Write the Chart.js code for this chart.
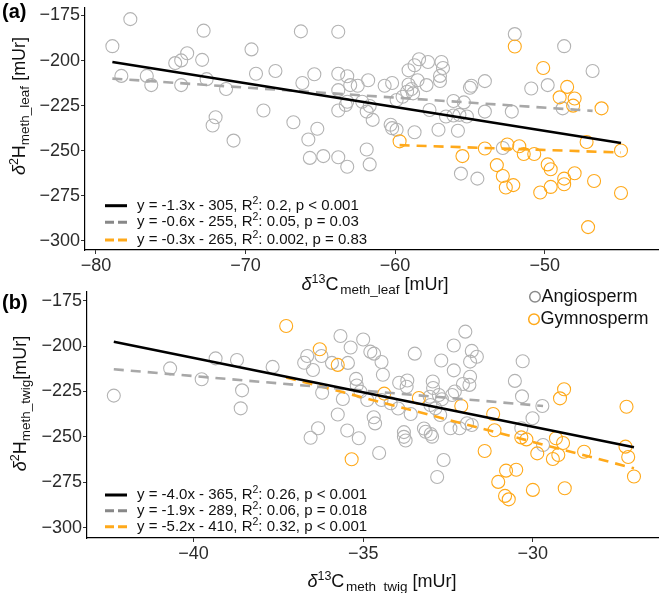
<!DOCTYPE html>
<html>
<head>
<meta charset="utf-8">
<script src="https://cdn.jsdelivr.net/npm/chart.js@4.4.1/dist/chart.umd.min.js"></script>
<style>
	html, body { margin: 0; padding: 0; background: #fff; }
	#wrap { position: relative; width: 666px; height: 593px; overflow: hidden; }
	.panel { position: absolute; left: 0; width: 666px; }
	#pa { top: 0; height: 300px; }
	#pb { top: 280px; height: 313px; }
</style>
</head>
<body>
<div id="wrap">
	<div class="panel" id="pa"><canvas id="chartA"></canvas></div>
	<div class="panel" id="pb"><canvas id="chartB"></canvas></div>
</div>
<script>
// Panel (a): leaf methoxyl values.
const leafAngioX = [-78.9, -77.7, -78.3, -76.6, -76.3, -74.7, -74.3, -73.9, -74.3, -72.8, -72.9, -72.6, -72.0, -72.2, -71.3, -70.8, -69.6, -69.3, -68.8, -68.0, -66.8, -66.3, -66.2, -65.4, -65.8, -65.2, -65.7, -64.8, -63.8, -63.8, -63.2, -63.8, -63.0, -62.5, -61.8, -63.2, -63.3, -63.8, -62.2, -61.7, -61.9, -61.5, -60.7, -60.2, -59.9, -60.3, -60.2, -59.9, -61.9, -61.7, -63.8, -63.2, -52.0, -48.7, -46.8, -58.7, -58.4, -58.7, -59.1, -57.8, -56.9, -56.8, -57.0, -57.0, -58.5, -59.1, -58.9, -58.8, -59.2, -59.5, -57.9, -57.7, -57.1, -56.6, -56.1, -55.4, -55.8, -56.1, -55.7, -55.2, -55.0, -54.9, -54.0, -54.0, -55.6, -54.5, -52.8, -52.2, -50.9, -49.8, -48.8]
const leafAngioY = [-192.0, -177.0, -208.5, -208.5, -213.6, -201.4, -199.9, -195.9, -213.6, -183.4, -199.6, -210.3, -231.4, -236.0, -215.8, -244.4, -193.8, -207.3, -227.7, -205.8, -234.2, -183.8, -212.4, -207.6, -243.8, -237.8, -254.0, -253.0, -184.0, -207.3, -208.7, -216.4, -213.6, -214.0, -210.9, -222.8, -224.6, -227.7, -222.8, -225.2, -228.3, -232.9, -214.0, -212.4, -221.9, -235.6, -237.5, -238.4, -249.3, -257.6, -253.6, -258.9, -185.3, -192.0, -205.8, -239.8, -199.3, -202.6, -205.4, -200.8, -200.8, -204.1, -208.5, -211.3, -210.9, -213.3, -215.8, -218.2, -217.3, -220.1, -213.6, -227.4, -238.4, -231.0, -222.4, -223.2, -238.9, -230.5, -230.1, -231.0, -215.1, -214.0, -211.4, -228.3, -262.7, -265.5, -248.5, -228.3, -215.5, -213.6, -226.5]
const leafGymnoX = [-59.7, -52.0, -50.1, -48.5, -49.0, -48.0, -48.1, -46.2, -47.2, -44.9, -55.5, -54.0, -52.5, -51.7, -51.4, -50.7, -53.2, -52.8, -52.6, -52.1, -50.3, -49.6, -49.8, -49.6, -48.7, -48.7, -48.0, -46.7, -44.9, -47.1]
const leafGymnoY = [-244.8, -192.2, -204.1, -214.6, -220.4, -221.0, -225.0, -226.5, -245.2, -249.9, -253.0, -248.8, -246.6, -247.5, -251.8, -251.8, -258.0, -264.0, -270.4, -269.1, -273.2, -270.1, -257.6, -260.3, -265.5, -268.6, -262.5, -266.8, -273.5, -292.4]

// Fitted lines of panel (a), as start and end values.
const leafFitAllX = [-78.9, -44.9]
const leafFitAllY = [-200.8, -245.7]
const leafFitAngioX = [-78.9, -46.8]
const leafFitAngioY = [-210.0, -227.9]
const leafFitGymnoX = [-59.7, -44.9]
const leafFitGymnoY = [-246.9, -251.0]
const leafFitLabels = ['y = -1.3x - 305, R^2: 0.2, p < 0.001', 'y = -0.6x - 255, R^2: 0.05, p = 0.03', 'y = -0.3x - 265, R^2: 0.002, p = 0.83']

// Panel (b): twig methoxyl values.
const twigAngioX = [-42.35, -40.69, -39.76, -39.35, -38.72, -38.57, -38.61, -37.67, -36.74, -36.65, -36.48, -36.23, -36.21, -36.33, -36.55, -35.92, -35.67, -35.75, -35.45, -35.37, -35.0, -34.79, -34.68, -34.46, -34.42, -35.21, -35.19, -35.08, -35.6, -35.47, -35.13, -34.88, -34.69, -34.65, -34.46, -34.19, -33.97, -33.94, -33.70, -33.72, -33.48, -33.60, -33.80, -33.80, -33.75, -34.53, -33.16, -33.01, -32.97, -33.04, -32.95, -32.94, -32.82, -32.70, -32.33, -31.99, -31.80, -31.65, -31.85, -32.33, -31.85, -31.87, -32.06, -32.77, -32.68, -32.38, -32.30, -33.02, -32.87, -32.73, -32.43, -32.16, -31.94, -31.80, -32.63, -33.21, -30.53, -30.30, -30.32, -29.72, -30.01, -30.34, -29.70]
const twigAngioY = [-227.3, -212.3, -218.3, -206.8, -207.7, -224.4, -234.3, -211.5, -209.2, -205.5, -213.2, -205.5, -225.7, -245.3, -250.5, -209.3, -194.5, -237.7, -209.3, -200.8, -196.4, -203.1, -204.2, -208.8, -215.8, -218.1, -221.7, -225.1, -229.2, -246.5, -250.8, -229.7, -239.2, -242.6, -229.7, -231.5, -234.4, -220.2, -219.0, -222.4, -204.2, -237.4, -247.4, -250.0, -252.0, -258.9, -247.2, -248.4, -249.9, -227.9, -219.5, -223.1, -272.1, -208.0, -199.7, -192.1, -202.7, -205.9, -208.6, -213.4, -216.9, -221.4, -220.9, -227.0, -229.3, -227.0, -225.0, -232.5, -234.3, -238.0, -245.3, -245.3, -242.5, -243.5, -262.7, -245.4, -219.2, -208.4, -227.7, -233.0, -239.8, -245.3, -254.5]
const twigGymnoX = [-37.27, -36.28, -35.75, -35.34, -34.38, -33.36, -32.11, -31.17, -31.13, -31.42, -30.34, -30.19, -29.87, -29.32, -29.11, -29.25, -29.41, -28.49, -29.08, -29.20, -27.24, -27.27, -27.19, -27.02, -30.79, -30.49, -31.02, -30.82, -30.71, -30.0, -29.06]
const twigGymnoY = [-189.0, -201.8, -210.4, -262.3, -226.2, -228.6, -233.0, -237.4, -246.4, -257.8, -250.3, -251.4, -259.1, -250.8, -253.4, -260.0, -262.2, -258.2, -223.8, -228.8, -233.4, -255.4, -261.1, -271.8, -268.6, -268.1, -274.8, -282.5, -284.4, -279.2, -278.3]

const twigFitAllX = [-42.35, -27.02]
const twigFitAllY = [-197.6, -255.7]
const twigFitAngioX = [-42.35, -29.7]
const twigFitAngioY = [-212.8, -233.0]
const twigFitGymnoX = [-37.27, -27.02]
const twigFitGymnoY = [-217.3, -267.3]
const twigFitLabels = ['y = -4.0x - 365, R^2: 0.26, p < 0.001', 'y = -1.9x - 289, R^2: 0.06, p = 0.018', 'y = -5.2x - 410, R^2: 0.32, p < 0.001']

const leafXTicks = [-80, -70, -60, -50]
const twigXTicks = [-40, -35, -30]
const yTicks = [-300, -275, -250, -225, -200, -175]
const groupNames = ['Angiosperm', 'Gymnosperm']

const FONT = '"Liberation Sans", Arial, sans-serif'
const colors = {
	all: '#000000',
	angio: '#b3b3b3',
	angioLine: '#a8a8a8',
	angioKey: '#8a8a8a',
	gymno: '#ffa91a',
	text: '#2b2b2b',
}
const DASH = [10, 7]

const toPoints = (xs, ys) => xs.map((x, i) => ({ x, y: ys[i] }))
const minus = value => String(value).replace('-', '\u2212')

// parts: [text, size, dy, style]
const drawParts = (ctx, parts, x, y, align = 'left') => {
	const widths = parts.map(([text, size, , style = '']) => {
		ctx.font = `${style} ${size}px ${FONT}`
		return ctx.measureText(text).width
	})
	const total = widths.reduce((a, b) => a + b, 0)
	let cursor = align === 'center' ? x - total / 2 : x
	parts.forEach(([text, size, dy = 0, style = ''], i) => {
		ctx.font = `${style} ${size}px ${FONT}`
		ctx.fillText(text, cursor, y + dy)
		cursor += widths[i]
	})
}

const fitParts = (label) => {
	const [pre, post] = label.split('^2')
	return [[pre, 15], ['2', 10.5, -5], [post, 15]]
}

const drawFitKey = (ctx, labels, x, rows) => {
	const styles = [[colors.all, []], ['#888888', [9, 4]], [colors.gymno, [9, 4]]]
	rows.forEach((rowY, i) => {
		ctx.save()
		ctx.strokeStyle = styles[i][0]
		ctx.lineWidth = 3
		ctx.setLineDash(styles[i][1])
		ctx.beginPath()
		ctx.moveTo(x, rowY)
		ctx.lineTo(x + 22, rowY)
		ctx.stroke()
		ctx.restore()
		ctx.fillStyle = '#111'
		ctx.textBaseline = 'middle'
		drawParts(ctx, fitParts(labels[i]), x + 32, rowY)
	})
}

const drawYTitle = (ctx, x, y, sub, gap) => {
	ctx.save()
	ctx.translate(x, y)
	ctx.rotate(-Math.PI / 2)
	ctx.fillStyle = '#111'
	ctx.textBaseline = 'alphabetic'
	drawParts(ctx, [['δ', 18, 0, 'italic'], ['2', 12.5, -7], ['H', 18], [sub, 13.5, 4], [gap + '[mUr]', 18]], 0, 0, 'center')
	ctx.restore()
}

const drawXTitle = (ctx, x, y, sub) => {
	ctx.fillStyle = '#111'
	ctx.textBaseline = 'alphabetic'
	drawParts(ctx, [['δ', 18, 0, 'italic'], ['13', 12.5, -7], ['C', 18], [' ', 6], [sub, 13.5, 4], [' [mUr]', 18]], x, y, 'center')
}

const lineSet = (xs, ys, color, dash) => ({
	data: toPoints(xs, ys),
	showLine: true,
	borderColor: color,
	borderWidth: 2.6,
	borderDash: dash,
	pointRadius: 0,
	pointHoverRadius: 0,
	fill: false,
})

const pointSet = (xs, ys, color) => ({
	data: toPoints(xs, ys),
	showLine: false,
	borderColor: color,
	backgroundColor: 'rgba(0,0,0,0)',
	borderWidth: 1.1,
	pointRadius: 6.5,
	pointHoverRadius: 6.5,
})

const makeChart = (canvasId, panel) => new Chart(document.getElementById(canvasId), {
	type: 'scatter',
	data: {
		datasets: [
			lineSet(panel.fitAll[0], panel.fitAll[1], colors.all, []),
			lineSet(panel.fitAngio[0], panel.fitAngio[1], colors.angioLine, DASH),
			lineSet(panel.fitGymno[0], panel.fitGymno[1], colors.gymno, DASH),
			pointSet(panel.gymno[0], panel.gymno[1], colors.gymno),
			pointSet(panel.angio[0], panel.angio[1], colors.angio),
		],
	},
	options: {
		responsive: true,
		maintainAspectRatio: false,
		animation: false,
		devicePixelRatio: 1,
		layout: { padding: panel.padding },
		plugins: { legend: { display: false }, tooltip: { enabled: false } },
		scales: {
			x: {
				type: 'linear',
				min: panel.xMin,
				max: panel.xMax,
				afterBuildTicks: (scale) => { scale.ticks = panel.xTicks.map(value => ({ value })) },
				afterFit: (scale) => {
					scale.height = panel.xHeight
					scale.paddingLeft = 0
					scale.paddingRight = 0
				},
				grid: { display: true, drawOnChartArea: false, drawTicks: true, tickLength: 4, color: '#333' },
				border: { display: true, color: '#000', width: 1.2 },
				ticks: { font: { family: FONT, size: 18 }, color: colors.text, padding: 1, maxRotation: 0, autoSkip: false, callback: minus },
			},
			y: {
				type: 'linear',
				min: panel.yMin,
				max: panel.yMax,
				afterBuildTicks: (scale) => { scale.ticks = yTicks.map(value => ({ value })) },
				afterFit: (scale) => {
					scale.width = panel.yWidth
					scale.paddingTop = 0
					scale.paddingBottom = 0
				},
				grid: { display: true, drawOnChartArea: false, drawTicks: true, tickLength: 4, color: '#333' },
				border: { display: true, color: '#000', width: 1.2 },
				ticks: { font: { family: FONT, size: 18 }, color: colors.text, padding: 1, autoSkip: false, callback: minus },
			},
		},
	},
	plugins: [{ id: 'annotations', afterDraw: chart => panel.decorate(chart.ctx) }],
})

makeChart('chartA', {
	angio: [leafAngioX, leafAngioY],
	gymno: [leafGymnoX, leafGymnoY],
	fitAll: [leafFitAllX, leafFitAllY],
	fitAngio: [leafFitAngioX, leafFitAngioY],
	fitGymno: [leafFitGymnoX, leafFitGymnoY],
	xTicks: leafXTicks,
	xMin: -80.73,
	xMax: -42.4,
	yMin: -305.1,
	yMax: -170.6,
	yWidth: 85,
	xHeight: 46,
	padding: { top: 5, right: 3, left: 0, bottom: 4 },
	decorate: (ctx) => {
		ctx.save()
		ctx.fillStyle = '#000'
		ctx.textBaseline = 'middle'
		ctx.font = `bold 20px ${FONT}`
		ctx.fillText('(a)', 2, 12)
		drawYTitle(ctx, 25, 106, 'meth_leaf', ' ')
		drawXTitle(ctx, 375, 290, 'meth_leaf')
		drawFitKey(ctx, leafFitLabels, 105, [205.7, 222.3, 240])
		ctx.restore()
	},
})

makeChart('chartB', {
	angio: [twigAngioX, twigAngioY],
	gymno: [twigGymnoX, twigGymnoY],
	fitAll: [twigFitAllX, twigFitAllY],
	fitAngio: [twigFitAngioX, twigFitAngioY],
	fitGymno: [twigFitGymnoX, twigFitGymnoY],
	xTicks: twigXTicks,
	xMin: -43.14,
	xMax: -26.3,
	yMin: -305.67,
	yMax: -170.27,
	yWidth: 87,
	xHeight: 55,
	padding: { top: 12, right: 3, left: 0, bottom: 0 },
	decorate: (ctx) => {
		ctx.save()
		ctx.fillStyle = '#000'
		ctx.textBaseline = 'middle'
		ctx.font = `bold 20px ${FONT}`
		ctx.fillText('(b)', 2, 23)
		drawYTitle(ctx, 26, 123.5, 'meth_twig', '')
		drawXTitle(ctx, 382, 307, 'meth_twig')
		drawFitKey(ctx, twigFitLabels, 105, [215, 230.7, 246.7])

		// Group key between the panels.
		const keyColors = [colors.angioKey, colors.gymno]
		const keyRows = [[535, 16.7], [534, 39.3]]
		groupNames.forEach((name, i) => {
			const [kx, ky] = keyRows[i]
			ctx.strokeStyle = keyColors[i]
			ctx.lineWidth = 1.5
			ctx.beginPath()
			ctx.arc(kx, ky, 5.3, 0, Math.PI * 2)
			ctx.stroke()
			ctx.fillStyle = '#111'
			ctx.font = `18px ${FONT}`
			ctx.fillText(name, kx + 6.5, ky)
		})
		ctx.restore()
	},
})
</script>
</body>
</html>
